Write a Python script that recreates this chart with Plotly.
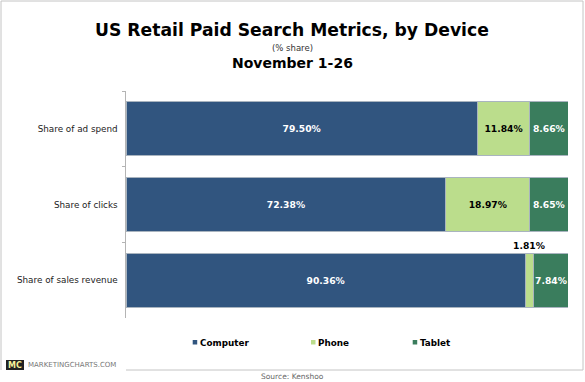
import plotly.graph_objects as go

categories = ["Share of ad spend", "Share of clicks", "Share of sales revenue"]
computer = [79.50, 72.38, 90.36]
phone = [11.84, 18.97, 1.81]
tablet = [8.66, 8.65, 7.84]
colors = {"Computer": "#31557f", "Phone": "#bbdd8c", "Tablet": "#3a7d5d"}
FONT = "Verdana, 'DejaVu Sans', sans-serif"

def labels(vals, limit):
    return [f"<b>{v:.2f}%</b>" if v >= limit else "" for v in vals]

fig = go.Figure()
for name, vals, tc, limit in [("Computer", computer, "white", 3), ("Phone", phone, "black", 3), ("Tablet", tablet, "white", 8)]:
    fig.add_trace(go.Bar(
        y=categories, x=vals, name=name, orientation="h",
        marker=dict(color=colors[name], line=dict(color="#a9b4bf", width=1)),
        text=labels(vals, limit), textposition="inside", insidetextanchor="middle", constraintext="none",
        textangle=0, textfont=dict(color=tc, size=9.2, family=FONT), cliponaxis=False,
    ))

# labels that do not fit inside their segment
fig.add_annotation(x=computer[2] + phone[2] / 2, y=categories[2], yshift=35, xref="x", yref="y",
                   text=f"<b>{phone[2]:.2f}%</b>", showarrow=False, font=dict(size=9.2, color="black", family=FONT))
fig.add_annotation(x=computer[2] + phone[2] + tablet[2] / 2, y=categories[2], xref="x", yref="y",
                   text=f"<b>{tablet[2]:.2f}%</b>", showarrow=False, font=dict(size=9.2, color="white", family=FONT))

fig.update_layout(
    width=585, height=382, barmode="stack", bargap=0.287,
    margin=dict(l=126, r=17, t=91, b=64),
    paper_bgcolor="white", plot_bgcolor="white",
    font=dict(family=FONT, color="black"),
    showlegend=False,
    xaxis=dict(range=[0, 100], visible=False, fixedrange=True),
    yaxis=dict(type="category", categoryorder="array", categoryarray=categories, range=[2.5, -0.5],
               showline=True, linecolor="#b4b4b4", linewidth=1,
               ticks="outside", tickson="boundaries", ticklen=3, tickcolor="#b4b4b4",
               tickfont=dict(size=8.8, color="#222222", family=FONT), ticksuffix="  "),
)

def px(x):
    return (x - 126) / (585 - 126 - 17)

def py(y):
    return 1 - (y - 91) / (382 - 91 - 64)

def txt(x, y, t, size, color="black", anchor="center"):
    fig.add_annotation(x=px(x), y=py(y), xref="paper", yref="paper", xanchor=anchor, yanchor="middle",
                       text=t, showarrow=False, font=dict(size=size, color=color, family=FONT))

txt(292, 30, "<b>US Retail Paid Search Metrics, by Device</b>", 17.2)
txt(292, 48, "(% share)", 8.5, "#333333")
txt(292, 63, "<b>November 1-26</b>", 14)
txt(292, 376, "Source: Kenshoo", 7.5, "#666666")
txt(26, 365, "MARKETINGCHARTS.COM", 7, "#777777", "left")

# frame: bottom line only starts right of the logo strip
for x0, y0, x1, y1 in [(1, 1, 583, 1), (1, 1, 1, 370), (583, 1, 583, 370), (126, 370, 583, 370)]:
    fig.add_shape(type="line", xref="paper", yref="paper", x0=px(x0), x1=px(x1), y0=py(y0), y1=py(y1),
                  line=dict(color="#c4c4c4", width=1), layer="below")

# legend: small square + bold label
for mx, tx, name in [(192.7, 197.5, "Computer"), (311, 315.8, "Phone"), (412.7, 417.5, "Tablet")]:
    fig.add_shape(type="rect", xref="paper", yref="paper", x0=px(mx), x1=px(mx + 4.5), y0=py(340), y1=py(344.5),
                  line=dict(width=0), fillcolor=colors[name])
    txt(tx, 342.7, f"<b>{name}</b>", 8.8, "black", "left")

fig.add_shape(type="rect", xref="paper", yref="paper", x0=px(6), x1=px(24), y0=py(360), y1=py(370),
              line=dict(width=0), fillcolor="#222222")
txt(15, 365, "<b>MC</b>", 8, "#f5f29a")

fig.write_html("out.html", post_script="document.body.style.margin='0';", config={"displayModeBar": False})
